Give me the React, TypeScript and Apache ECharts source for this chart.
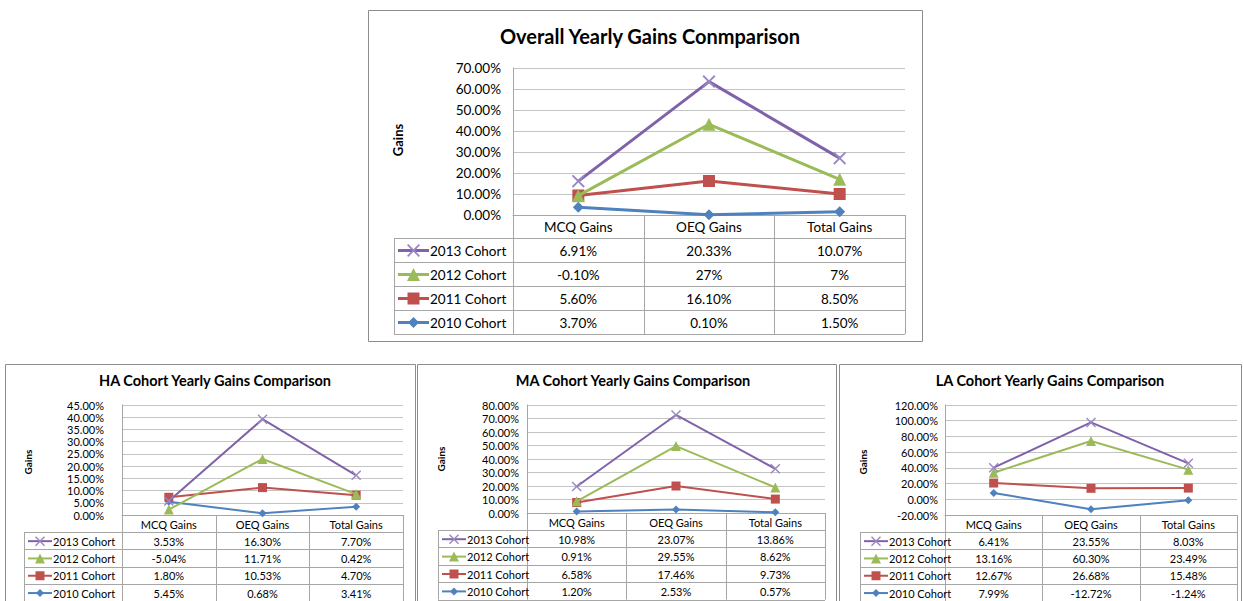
import React, { useEffect, useRef } from 'react';
import * as echarts from 'echarts';

const categories = ['MCQ Gains', 'OEQ Gains', 'Total Gains'];
const cohorts = ['2013 Cohort', '2012 Cohort', '2011 Cohort', '2010 Cohort'];
const chartTitles = [
  'Overall Yearly Gains Conmparison',
  'HA Cohort Yearly Gains Comparison',
  'MA Cohort Yearly Gains Comparison',
  'LA Cohort Yearly Gains Comparison',
];

const overall2013 = [6.91, 20.33, 10.07];
const overall2012 = [-0.1, 27, 7];
const overall2011 = [5.6, 16.1, 8.5];
const overall2010 = [3.7, 0.1, 1.5];

const ha2013 = [3.53, 16.3, 7.7];
const ha2012 = [-5.04, 11.71, 0.42];
const ha2011 = [1.8, 10.53, 4.7];
const ha2010 = [5.45, 0.68, 3.41];

const ma2013 = [10.98, 23.07, 13.86];
const ma2012 = [0.91, 29.55, 8.62];
const ma2011 = [6.58, 17.46, 9.73];
const ma2010 = [1.2, 2.53, 0.57];

const la2013 = [6.41, 23.55, 8.03];
const la2012 = [13.16, 60.3, 23.49];
const la2011 = [12.67, 26.68, 15.48];
const la2010 = [7.99, -12.72, -1.24];

// rows in table order: 2013, 2012, 2011, 2010
const chartData = [
  [overall2013, overall2012, overall2011, overall2010],
  [ha2013, ha2012, ha2011, ha2010],
  [ma2013, ma2012, ma2011, ma2010],
  [la2013, la2012, la2011, la2010],
];

const yMins = [0, 0, 0, -20];
const yMaxs = [70, 45, 80, 120];
const yIntervals = [10, 5, 10, 20];

const colors = ['#7F62A9', '#9BBB59', '#C0504D', '#4F81BD'];
const symbolKinds = ['x', 'triangle', 'rect', 'diamond'];
const X_PATH = 'path://M0,1L1,0L5,4L9,0L10,1L6,5L10,9L9,10L5,6L1,10L0,9L4,5Z';

const FONT = 'Lato, "Open Sans", sans-serif';
const GRID_COLOR = '#c4c4c4';
const TABLE_COLOR = '#a6a6a6';

const panels = [
  { box: [368.5, 10.5, 554, 331], titleX: 645, titleY: 37, titleSize: 20, gl: 513, gt: 68, gw: 392, gh: 147, tl: 394, hb: 238, rh: 24, axisFont: 13.5, tableFont: 13.5, labelMargin: 12, gainsX: 398, gainsY: 140, gainsSize: 13, lw: 3, keyLen: 31, sym: [13, 13, 12, 11] },
  { box: [5.5, 364.5, 410, 240], titleX: 210, titleY: 381, titleSize: 14.5, gl: 122, gt: 405, gw: 281, gh: 110, tl: 24, hb: 532, rh: 17.3, axisFont: 11, tableFont: 11, labelMargin: 18, gainsX: 28, gainsY: 462, gainsSize: 10, lw: 2, keyLen: 24, sym: [10, 10, 9, 8] },
  { box: [417.5, 364.5, 419, 240], titleX: 628, titleY: 381, titleSize: 14.5, gl: 527, gt: 405, gw: 298, gh: 108, tl: 438, hb: 530, rh: 17.4, axisFont: 11, tableFont: 11, labelMargin: 8, gainsX: 441, gainsY: 459, gainsSize: 10, lw: 2, keyLen: 24, sym: [10, 10, 9, 8] },
  { box: [839.5, 364.5, 402, 240], titleX: 1045, titleY: 381, titleSize: 14.5, gl: 945, gt: 405, gw: 292, gh: 110, tl: 860, hb: 532, rh: 17.3, axisFont: 11, tableFont: 11, labelMargin: 7, gainsX: 863, gainsY: 462, gainsSize: 10, lw: 2, keyLen: 24, sym: [10, 10, 9, 8] },
];

const fmt = (v: number) => (Number.isInteger(v) ? `${v}%` : `${v.toFixed(2)}%`);

function markerGraphic(kind: string, cx: number, cy: number, s: number, color: string) {
  const h = s / 2;
  if (kind === 'rect') {
    return { type: 'rect', shape: { x: cx - h, y: cy - h, width: s, height: s }, style: { fill: color } };
  }
  if (kind === 'triangle') {
    return { type: 'polygon', shape: { points: [[cx, cy - h], [cx + h, cy + h], [cx - h, cy + h]] }, style: { fill: color } };
  }
  if (kind === 'diamond') {
    return { type: 'polygon', shape: { points: [[cx, cy - h], [cx + h, cy], [cx, cy + h], [cx - h, cy]] }, style: { fill: color } };
  }
  const u = s / 10;
  const pts = [[0, 1], [1, 0], [5, 4], [9, 0], [10, 1], [6, 5], [10, 9], [9, 10], [5, 6], [1, 10], [0, 9], [4, 5]].map(
    ([px, py]) => [cx - h + px * u, cy - h + py * u]
  );
  return { type: 'polygon', shape: { points: pts }, style: { fill: color } };
}

function buildOption() {
  const grid: any[] = [];
  const xAxis: any[] = [];
  const yAxis: any[] = [];
  const series: any[] = [];
  const title: any[] = [];
  const elements: any[] = [];

  panels.forEach((p, i) => {
    grid.push({ left: p.gl, top: p.gt, width: p.gw, height: p.gh, containLabel: false });
    xAxis.push({
      type: 'category',
      gridIndex: i,
      data: categories,
      boundaryGap: true,
      axisLine: { show: true, onZero: false, lineStyle: { color: TABLE_COLOR, width: 1 } },
      axisTick: { show: false },
      axisLabel: { show: false },
      splitLine: { show: false },
    });
    yAxis.push({
      type: 'value',
      gridIndex: i,
      min: yMins[i],
      max: yMaxs[i],
      interval: yIntervals[i],
      axisLine: { show: true, lineStyle: { color: TABLE_COLOR, width: 1 } },
      axisTick: { show: false },
      axisLabel: {
        color: '#000',
        fontSize: p.axisFont,
        fontFamily: FONT,
        margin: p.labelMargin,
        formatter: (v: number) => `${v.toFixed(2)}%`,
      },
      splitLine: { show: true, lineStyle: { color: GRID_COLOR, width: 1 } },
    });
    title.push({
      text: chartTitles[i],
      left: p.titleX,
      top: p.titleY - p.titleSize * 0.62 - 4,
      textAlign: 'center',
      textStyle: { fontSize: p.titleSize, fontWeight: 'bold', fontFamily: FONT, color: '#000' },
    });

    // stacked series: bottom (2010) first
    for (let j = 3; j >= 0; j--) {
      const kind = symbolKinds[j];
      series.push({
        name: cohorts[j],
        type: 'line',
        xAxisIndex: i,
        yAxisIndex: i,
        stack: `panel${i}`,
        stackStrategy: 'all',
        data: chartData[i][j],
        symbol: kind === 'x' ? X_PATH : kind,
        symbolSize: p.sym[j],
        showAllSymbol: true,
        lineStyle: { color: colors[j], width: p.lw },
        itemStyle: { color: kind === 'x' ? '#9a86c2' : colors[j] },
        emphasis: { disabled: true },
        z: 3 + (3 - j),
      });
    }

    // box
    elements.push({
      type: 'rect',
      shape: { x: p.box[0], y: p.box[1], width: p.box[2], height: p.box[3] },
      style: { fill: 'none', stroke: '#8c8c8c', lineWidth: 1 },
    });

    // Gains label
    elements.push({
      type: 'text',
      x: p.gainsX,
      y: p.gainsY,
      rotation: Math.PI / 2,
      style: {
        text: 'Gains',
        font: `bold ${p.gainsSize}px ${FONT}`,
        fill: '#000',
        textAlign: 'center',
        textVerticalAlign: 'middle',
      },
    });

    // data table
    const gb = p.gt + p.gh;
    const gr = p.gl + p.gw;
    const cw = p.gw / 3;
    const tb = p.hb + p.rh * 4;
    const ln = (x1: number, y1: number, x2: number, y2: number) =>
      elements.push({ type: 'line', shape: { x1, y1, x2, y2 }, style: { stroke: TABLE_COLOR, lineWidth: 1 } });
    for (let c = 0; c <= 3; c++) {
      const x = Math.round(p.gl + cw * c) + 0.5;
      ln(x, gb, x, tb);
    }
    ln(Math.round(p.tl) + 0.5, p.hb, Math.round(p.tl) + 0.5, tb);
    for (let r = 0; r <= 4; r++) {
      const y = Math.round(p.hb + p.rh * r) + 0.5;
      ln(p.tl, y, gr, y);
    }
    // header
    categories.forEach((cat, c) => {
      elements.push({
        type: 'text',
        x: p.gl + cw * (c + 0.5),
        y: (gb + p.hb) / 2 + 0.5,
        style: { text: cat, font: `${p.tableFont}px ${FONT}`, fill: '#000', textAlign: 'center', textVerticalAlign: 'middle' },
      });
    });
    // rows
    cohorts.forEach((name, r) => {
      const cy = p.hb + p.rh * (r + 0.5) + 0.5;
      const kx1 = p.tl + 4;
      const kx2 = kx1 + p.keyLen;
      elements.push({ type: 'line', shape: { x1: kx1, y1: cy, x2: kx2, y2: cy }, style: { stroke: colors[r], lineWidth: p.lw } });
      const mk: any = markerGraphic(symbolKinds[r], (kx1 + kx2) / 2, cy, p.sym[r], symbolKinds[r] === 'x' ? '#9a86c2' : colors[r]);
      elements.push(mk);
      elements.push({
        type: 'text',
        x: kx2 + 1,
        y: cy,
        style: { text: name, font: `${p.tableFont}px ${FONT}`, fill: '#000', textAlign: 'left', textVerticalAlign: 'middle' },
      });
      chartData[i][r].forEach((v, c) => {
        elements.push({
          type: 'text',
          x: p.gl + cw * (c + 0.5),
          y: cy,
          style: { text: fmt(v), font: `${p.tableFont}px ${FONT}`, fill: '#000', textAlign: 'center', textVerticalAlign: 'middle' },
        });
      });
    });
  });

  return {
    animation: false,
    backgroundColor: '#fff',
    title,
    grid,
    xAxis,
    yAxis,
    series,
    graphic: { elements },
  };
}

export default function App() {
  const ref = useRef<HTMLDivElement>(null);
  useEffect(() => {
    if (!ref.current) return;
    const chart = echarts.init(ref.current, undefined, { renderer: 'svg' });
    chart.setOption(buildOption() as any);
    return () => chart.dispose();
  }, []);
  return <div ref={ref} style={{ position: 'fixed', left: 0, top: 0, width: 1244, height: 601 }} />;
}
